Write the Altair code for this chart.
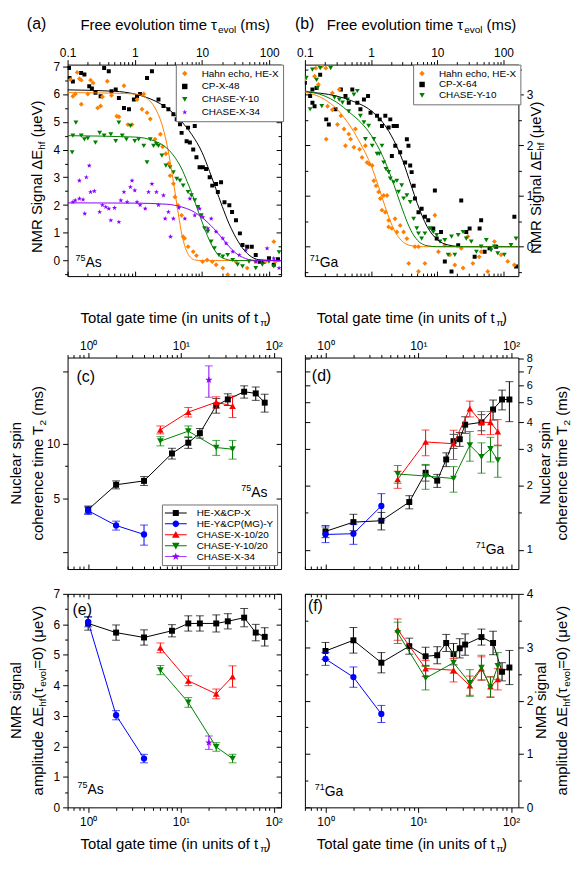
import altair as alt
import pandas as pd

FONT = "Liberation Sans"
ORANGE = "#FF7F00"; BLACK = "#000000"; GREEN = "#008000"
PURPLE = "#8B00FF"; BLUE = "#0000FF"; RED = "#FF0000"

STAR_PTS = [(0, -1), (0.235, -0.324), (0.951, -0.309), (0.38, 0.124), (0.588, 0.809),
            (0, 0.4), (-0.588, 0.809), (-0.38, 0.124), (-0.951, -0.309), (-0.235, -0.324)]


def star_path(cx=0.0, r=1.0):
    return "M" + "L".join(f"{cx + px * r:.3f},{py * r:.3f}" for px, py in STAR_PTS) + "Z"


STAR = star_path()

# ---------------- panel (a): 75As, signal vs free evolution time ----------------
a_he = [(0.11, 6.52), (0.12, 5.92), (0.13, 6.0), (0.139, 6.78), (0.15, 6.55), (0.16, 6.5), (0.16, 5.63),
        (0.2, 6.0), (0.22, 6.5), (0.24, 6.4), (0.28, 5.5), (0.31, 5.57), (0.33, 5.9), (0.39, 6.46),
        (0.45, 5.95), (0.54, 5.2), (0.58, 5.18), (0.69, 6.3), (0.79, 4.9), (0.91, 4.9), (1.08, 5.8),
        (1.28, 5.45), (1.36, 6.0), (1.52, 5.33), (1.7, 5.1), (2.0, 4.37), (2.4, 4.55), (2.6, 4.1),
        (2.9, 3.85), (3.2, 3.5), (3.35, 3.06), (3.75, 2.77), (3.96, 2.29), (4.4, 1.99), (4.97, 1.63),
        (5.24, 0.86), (5.5, 0.8), (6.2, 0.5), (7.4, 0.32), (8.26, 0.18), (10.2, -0.04), (11.9, 0.02),
        (14.2, -0.04), (16.2, -0.15), (20.4, -0.27), (24.1, -0.51), (32, -0.04), (47, -0.27),
        (63, -0.04), (88, -0.04), (117, 0.68), (123, -0.04)]
a_cp = [(0.105, 6.94), (0.107, 6.58), (0.12, 6.45), (0.159, 6.76), (0.178, 6.7), (0.21, 6.28), (0.23, 6.2),
        (0.26, 6.05), (0.31, 5.92), (0.35, 6.94), (0.41, 6.82), (0.45, 6.1), (0.52, 6.16), (0.58, 5.86),
        (0.69, 5.5), (0.82, 5.45), (0.97, 5.8), (1.08, 5.92), (1.2, 6.0), (1.52, 6.58), (1.8, 6.82),
        (2.25, 5.8), (2.67, 5.57), (3.16, 5.45), (3.75, 5.27), (4.2, 5.09), (4.7, 4.91), (4.97, 4.6),
        (5.56, 5.15), (5.9, 4.3), (6.2, 4.79), (6.6, 4.25), (7.4, 4.0), (7.8, 4.85), (8.26, 3.72),
        (9.2, 3.36), (10.3, 3.36), (11.5, 3.3), (13, 3.0), (14.2, 2.7), (16.2, 2.76), (17.2, 2.47),
        (19.2, 2.82), (21.6, 2.1), (25.5, 1.99), (28, 1.75), (32, 1.45), (36.6, 0.98), (40, 0.56),
        (47, 0.5), (55, 0.5), (63, 0.2), (72, -0.04), (83, -0.04), (99, 0.08), (117, -0.15), (135, 0.05)]
a_cy = [(0.117, 3.9), (0.12, 4.5), (0.133, 4.97), (0.16, 4.5), (0.178, 4.37), (0.2, 4.4), (0.26, 4.25),
        (0.3, 4.6), (0.35, 4.5), (0.44, 4.55), (0.52, 4.3), (0.58, 4.97), (0.65, 4.5), (0.75, 4.37),
        (0.86, 4.85), (1.0, 4.3), (1.14, 4.37), (1.36, 4.13), (1.52, 3.54), (1.7, 4.37), (1.9, 4.13),
        (2.1, 4.2), (2.25, 4.13), (2.53, 3.78), (2.9, 3.42), (3.35, 3.36), (3.75, 3.18), (4.2, 2.94),
        (4.7, 2.88), (5.24, 2.7), (6.2, 2.47), (6.96, 2.35), (7.8, 2.17), (8.7, 1.93), (9.76, 1.63),
        (10.9, 1.16), (12.2, 1.04), (13.7, 0.68), (15.3, 0.44), (17.8, 0.2), (20.4, 0.14), (24.1, 0.2),
        (28.6, 0.02), (33.8, -0.15), (40, -0.21), (50, -0.04), (63, -0.27), (79, -0.15), (99, -0.04),
        (117, -0.21), (140, 0.3)]
a_cx = [(0.12, 2.11), (0.13, 2.17), (0.15, 2.23), (0.15, 2.88), (0.17, 2.2), (0.18, 1.69), (0.19, 3.0),
        (0.21, 3.42), (0.22, 2.47), (0.25, 2.5), (0.3, 1.75), (0.33, 2.0), (0.37, 1.93), (0.41, 1.87),
        (0.44, 1.45), (0.5, 1.9), (0.58, 1.39), (0.62, 2.17), (0.69, 2.47), (0.77, 2.11), (0.86, 2.65),
        (0.91, 2.88), (1.0, 2.53), (1.08, 2.11), (1.2, 2.0), (1.43, 1.87), (1.6, 2.47), (1.8, 2.76),
        (2.1, 2.47), (2.25, 2.0), (2.67, 2.35), (2.83, 1.51), (3.16, 1.75), (3.4, 0.86), (3.75, 1.51),
        (4.5, 1.9), (5.56, 1.51), (6.6, 2.23), (7.8, 1.63), (9.2, 1.87), (10.3, 1.57), (12.2, 1.16),
        (13.7, 1.51), (16.2, 1.04), (20.4, 0.8), (22.8, 0.62), (28.6, 0.32), (35.8, 0.2), (45, 0.38),
        (63, -0.04), (93, 0.44), (117, 0.08), (140, -0.27)]
a_he_fit = [(0.1, 6.05), (0.5, 6.03), (1, 6.0), (1.5, 5.85), (2, 5.5), (2.5, 4.95), (3, 4.2), (3.5, 3.3),
            (4, 2.4), (4.5, 1.6), (5, 0.95), (5.5, 0.55), (6, 0.3), (7, 0.08), (8, 0.02), (10, 0), (150, 0)]
a_cp_fit = [(0.1, 6.15), (0.5, 6.1), (1, 6.0), (2, 5.75), (3, 5.5), (5, 5.0), (7, 4.55), (10, 3.9),
            (13, 3.2), (16, 2.6), (20, 1.95), (25, 1.35), (30, 0.95), (40, 0.45), (50, 0.2), (70, 0.03),
            (100, 0), (150, 0)]
a_cy_fit = [(0.1, 4.5), (1, 4.45), (2, 4.3), (3, 4.05), (4, 3.7), (5, 3.3), (6, 2.85), (7, 2.45),
            (8, 2.05), (10, 1.4), (12, 0.9), (15, 0.42), (20, 0.1), (30, 0), (150, 0)]
a_cx_fit = [(0.1, 2.08), (1, 2.07), (3, 2.03), (5, 1.93), (7, 1.8), (10, 1.55), (15, 1.15), (20, 0.8),
            (25, 0.52), (30, 0.32), (40, 0.12), (60, 0.01), (150, 0)]

# ---------------- panel (b): 71Ga ----------------
b_he = [(0.1, 3.3), (0.14, 3.36), (0.146, 3.52), (0.16, 3.2), (0.18, 3.56), (0.207, 3.52), (0.21, 2.12),
        (0.22, 2.77), (0.26, 3.03), (0.26, 2.7), (0.31, 2.41), (0.33, 3.1), (0.35, 2.58), (0.39, 2.32),
        (0.41, 1.99), (0.46, 2.22), (0.49, 2.12), (0.55, 1.96), (0.58, 2.32), (0.67, 1.92), (0.73, 1.76),
        (0.82, 1.99), (0.87, 1.66), (0.94, 1.63), (1.04, 1.6), (1.1, 1.3), (1.19, 1.2), (1.3, 1.08),
        (1.38, 0.95), (1.46, 0.72), (1.55, 1.01), (1.64, 0.68), (1.74, 1.01), (1.84, 0.52), (1.84, 0.39),
        (2.06, 0.36), (2.3, 0.55), (2.45, 0.29), (2.75, 0.42), (3.1, 0.29), (3.47, 0.16), (3.7, -0.33),
        (4.6, 0.0), (5.2, 0.0), (5.2, -0.49), (6.5, -0.33), (9.2, 0.62), (10.4, -0.1), (13, 0.03),
        (15.5, -0.16), (18.4, -0.36), (23, -0.03), (24.5, -0.42), (29, 0.2), (34.5, -0.33), (43, -0.2),
        (46, -0.1), (58, -0.49), (73, 0.1), (92, -0.16), (116, -0.29), (146, -0.36)]
b_cp = [(0.1, 3.23), (0.12, 2.97), (0.13, 2.84), (0.13, 3.1), (0.14, 2.77), (0.15, 3.13), (0.17, 3.39),
        (0.21, 2.51), (0.23, 2.41), (0.29, 2.71), (0.35, 3.1), (0.41, 2.97), (0.46, 2.84), (0.52, 3.1),
        (0.62, 2.84), (0.69, 2.71), (0.78, 2.9), (0.9, 2.97), (0.98, 2.64), (1.23, 2.58), (1.35, 2.51),
        (1.46, 2.38), (1.64, 2.58), (1.84, 2.35), (1.95, 2.51), (2.06, 1.79), (2.19, 2.38), (2.32, 1.99),
        (2.45, 2.38), (2.75, 1.86), (3.27, 1.66), (3.47, 2.12), (3.67, 1.99), (3.9, 1.6), (4.1, 1.47),
        (4.4, 1.2), (4.6, 0.95), (5.2, 0.68), (5.8, 0.75), (6.5, 0.59), (7.3, 0.52), (8.7, 0.36),
        (9.2, 1.11), (9.8, 0.16), (11.4, 0.29), (13, -0.29), (16.4, -0.49), (20.7, 0.03), (23, 0.91),
        (27.4, 0.29), (30.8, 0.36), (36.7, -0.2), (43.6, 0.36), (46, 0.52), (51.9, -0.1), (61.6, -0.03),
        (77.6, 0.0), (146, 0.59), (155, -0.39)]
b_cy = [(0.105, 3.33), (0.13, 3.49), (0.15, 3.29), (0.17, 3.52), (0.245, 3.52), (0.12, 2.71), (0.155, 3.13),
        (0.18, 2.77), (0.28, 2.94), (0.33, 2.9), (0.37, 2.84), (0.44, 2.9), (0.46, 2.67), (0.55, 3.0),
        (0.62, 3.07), (0.69, 2.58), (0.78, 2.45), (0.82, 2.12), (0.92, 2.38), (1.04, 1.99), (1.1, 2.12),
        (1.23, 1.83), (1.33, 1.83), (1.46, 1.99), (1.55, 1.66), (1.68, 1.53), (1.84, 1.47), (1.95, 1.34),
        (2.19, 1.27), (2.45, 1.3), (2.6, 1.08), (2.9, 1.21), (3.1, 0.95), (3.47, 1.01), (3.9, 0.88),
        (4.4, 0.55), (4.9, 0.36), (5.2, 0.26), (5.8, 0.16), (6.5, 0.26), (7.8, 0.36), (8.7, 0.29),
        (9.8, 0.23), (11, 0.1), (13, 0.13), (14.6, -0.16), (16.4, 0.2), (18.4, -0.16), (20.7, 0.23),
        (24.5, 0.29), (27.4, 0.16), (32.6, 0.1), (39, -0.1), (46, 0.0), (55, 0.13), (65, -0.07),
        (73, 0.0), (82, -0.13), (103, -0.16), (130, 0.03), (155, 0.16)]
b_he_fit = [(0.1, 3.05), (0.2, 2.9), (0.3, 2.72), (0.5, 2.35), (0.7, 2.02), (1, 1.6), (1.3, 1.18),
            (1.6, 0.82), (2, 0.47), (2.5, 0.22), (3, 0.1), (4, 0.02), (6, 0), (168, 0)]
b_cp_fit = [(0.1, 3.05), (0.3, 2.97), (0.5, 2.88), (1, 2.68), (1.5, 2.45), (2, 2.2), (3, 1.7), (4, 1.22),
            (5, 0.85), (7, 0.4), (10, 0.14), (15, 0.03), (25, 0), (168, 0)]
b_cy_fit = [(0.1, 3.07), (0.2, 2.97), (0.3, 2.85), (0.5, 2.62), (0.7, 2.45), (1, 2.2), (1.5, 1.78),
            (2, 1.38), (2.5, 1.02), (3, 0.72), (4, 0.32), (5, 0.13), (7, 0.02), (10, 0), (168, 0)]

# ---------------- panels (c)-(f): vs total gate time ----------------
g_hecp = [1, 2, 4, 8, 12, 16, 24, 32, 48, 64, 80]
g_hecp_ga = [1, 2, 4, 8, 12, 16, 20, 24, 28, 32, 48, 64, 80, 96]
g_hey = [1, 2, 4]
g_chase = [6, 12, 24, 36]
g_chase_ga = [6, 12, 24, 36, 48, 60, 72]
g_cx34 = [20]

c_hecp = [4.32, 5.92, 6.22, 8.81, 10.1, 11.4, 16.2, 17.5, 19.3, 18.9, 16.8]
c_hecp_e = [0.2, 0.3, 0.35, 0.6, 0.7, 0.7, 1.5, 1.3, 1.5, 1.6, 1.9]
c_hey = [4.26, 3.53, 3.15]
c_hey_e = [0.2, 0.2, 0.4]
c_cx = [11.9, 14.9, 16.9, 16.1]
c_cx_e = [0.6, 0.9, 1.2, 2.2]
c_cy = [10.3, 11.7, 9.5, 9.3]
c_cy_e = [0.6, 0.8, 0.9, 1.1]
c_cx34 = [22.4]
c_cx34_e = [4.4]

d_hecp = [1.22, 1.35, 1.37, 1.68, 2.31, 2.12, 2.67, 3.26, 3.33, 3.9, 4.0, 4.6, 5.13, 5.13]
d_hecp_e = [0.08, 0.12, 0.13, 0.12, 0.2, 0.15, 0.2, 0.25, 0.25, 0.35, 0.35, 0.5, 0.55, 1.1]
d_hey = [1.18, 1.19, 1.61]
d_hey_e = [0.1, 0.13, 0.23]
d_cx = [2.15, 3.23, 3.17, 4.64, 4.0, 4.0, 3.62]
d_cx_e = [0.2, 0.45, 0.5, 0.4, 0.5, 0.5, 0.5]
d_cy = [2.28, 2.23, 2.17, 3.12, 2.75, 3.0, 2.65]
d_cy_e = [0.22, 0.3, 0.3, 0.5, 0.45, 0.4, 0.45]

e_hecp = [6.03, 5.73, 5.57, 5.79, 6.03, 6.03, 6.03, 6.1, 6.22, 5.73, 5.59]
e_hecp_e = [0.22, 0.25, 0.25, 0.2, 0.25, 0.25, 0.28, 0.25, 0.3, 0.27, 0.3]
e_hey = [6.08, 3.02, 1.6]
e_hey_e = [0.16, 0.15, 0.14]
e_cx = [5.23, 4.15, 3.72, 4.29]
e_cx_e = [0.16, 0.16, 0.16, 0.35]
e_cy = [4.5, 3.44, 1.98, 1.6]
e_cy_e = [0.15, 0.16, 0.14, 0.14]
e_cx34 = [2.12]
e_cx34_e = [0.22]

f_hecp = [2.93, 3.13, 2.71, 3.02, 2.83, 2.85, 3.08, 2.87, 2.98, 3.05, 3.19, 3.08, 2.54, 2.62]
f_hecp_e = [0.16, 0.24, 0.19, 0.15, 0.17, 0.16, 0.16, 0.2, 0.18, 0.2, 0.15, 0.22, 0.17, 0.32]
f_hey = [2.78, 2.44, 1.75]
f_hey_e = [0.12, 0.19, 0.16]
f_cx = [3.33, 2.6, 2.57, 2.28, 2.6, 2.26, 2.4]
f_cx_e = [0.2, 0.15, 0.22, 0.18, 0.22, 0.19, 0.2]
f_cy = [3.27, 2.42, 2.71, 2.33, 2.62, 2.25, 2.65]
f_cy_e = [0.2, 0.22, 0.2, 0.25, 0.23, 0.19, 0.25]

# tick values
X_DEC_A = [0.1, 1, 10, 100]
X_MIN_A = [0.2, 0.3, 0.4, 0.5, 0.6, 0.7, 0.8, 0.9, 2, 3, 4, 5, 6, 7, 8, 9, 20, 30, 40, 50, 60, 70, 80, 90]
X_DEC_G = [1, 10, 100]
X_MIN_G = [0.6, 0.7, 0.8, 0.9, 2, 3, 4, 5, 6, 7, 8, 9, 20, 30, 40, 50, 60, 70, 80, 90]

# ---------------- helpers ----------------
W = {' ': .278, '(': .333, ')': .333, '=': .584, ',': .278, '-': .333, '/': .278, '&': .667, '.': .278,
     'a': .556, 'b': .556, 'c': .5, 'd': .556, 'e': .556, 'f': .278, 'g': .556, 'h': .556, 'i': .222,
     'l': .222, 'm': .833, 'n': .556, 'o': .556, 'p': .556, 'r': .333, 's': .5, 't': .278, 'u': .556,
     'v': .5, 'A': .667, 'E': .667, 'F': .611, 'G': .778, 'M': .833, 'N': .722, 'R': .722, 'S': .667,
     'T': .611, 'V': .667, 'τ': .45, 'Δ': .668, 'μ': .576, 'π': .56}


def tw(s, size):
    return sum(W.get(ch, 0.556) for ch in s) * size


DUMMY = alt.Data(values=[{"d": 0}])


def rich(segs, x0, y0, angle=0, center=False):
    total = sum(tw(t, sz) for t, sz, _ in segs)
    pos = -total / 2 if center else 0.0
    out = []
    for t, sz, sh in segs:
        lead = len(t) - len(t.lstrip(' '))
        pos += lead * 0.278 * sz
        txt = t.strip(' ')
        if angle == 0:
            x, y = x0 + pos, y0 + sh
        else:
            x, y = x0 + sh, y0 - pos
        out.append(alt.Chart(DUMMY).mark_text(align='left', baseline='alphabetic', font=FONT, fontSize=sz,
                                              angle=angle, color='black')
                   .encode(x=alt.value(x), y=alt.value(y), text=alt.value(txt)))
        pos += tw(txt, sz)
    return out


def mk_axis(orient, vals, size, labels, offset, expr, pad, lsize):
    kw = dict(orient=orient, values=vals, tickSize=size, labels=labels, domain=False, grid=False,
              ticks=True, tickColor='black', tickWidth=1, title=None)
    if offset:
        kw['offset'] = offset
    if labels:
        kw.update(labelExpr=expr, labelFont=FONT, labelFontSize=lsize, labelColor='black',
                  labelPadding=pad, labelFlush=False, labelOverlap=False)
    return alt.Axis(**kw)


def axis_layers(xs, ys, xmid, ymid, xo, yo, xmaj, xmin, ymaj, ymin, xexpr, yexpr, ysize=12):
    xm = {'top': 'bottom', 'bottom': 'top'}[xo]
    ym = {'left': 'right', 'right': 'left'}[yo]
    xpad = 0 if xo == 'top' else 4
    base = alt.Chart(alt.Data(values=[{"ax": xmid, "ay": ymid}])).mark_point(opacity=0)
    cfg = [(xo, xmaj, 5, True, 0, yo, ymaj), (xo, xmin, 3, False, 0, yo, ymin),
           (xm, xmaj, 5, False, -5, ym, ymaj), (xm, xmin, 3, False, -3, ym, ymin)]
    out = []
    for xor, xv, sz, lab, off, yor, yv in cfg:
        out.append(base.encode(
            x=alt.X('ax:Q', scale=xs, axis=mk_axis(xor, xv, sz, lab, off, xexpr, xpad, 12)),
            y=alt.Y('ay:Q', scale=ys, axis=mk_axis(yor, yv, sz, lab, off, yexpr, 3, ysize))))
    return out


def scatter(pairs, color, shape, size, xs, ys):
    df = pd.DataFrame(pairs, columns=['t', 's'])
    return alt.Chart(df).mark_point(filled=True, shape=shape, size=size, color=color, opacity=1,
                                    strokeWidth=0, clip=True).encode(
        x=alt.X('t:Q', scale=xs, axis=None), y=alt.Y('s:Q', scale=ys, axis=None))


def fitline(pairs, color, xs, ys):
    df = pd.DataFrame(pairs, columns=['t', 's'])
    return alt.Chart(df).mark_line(color=color, strokeWidth=1, interpolate='monotone', clip=True).encode(
        x=alt.X('t:Q', scale=xs, axis=None), y=alt.Y('s:Q', scale=ys, axis=None))


def series(g, v, e, color, shape, size, xs, ys):
    df = pd.DataFrame({'g': g, 'v': v, 'lo': [a - b for a, b in zip(v, e)], 'hi': [a + b for a, b in zip(v, e)]})
    X = alt.X('g:Q', scale=xs, axis=None)
    base = alt.Chart(df)
    return [
        base.mark_line(color=color, strokeWidth=1).encode(x=X, y=alt.Y('v:Q', scale=ys, axis=None)),
        base.mark_rule(color=color, strokeWidth=1).encode(x=X, y=alt.Y('lo:Q', scale=ys, axis=None), y2='hi:Q'),
        base.mark_tick(color=color, orient='horizontal', size=8, thickness=1).encode(
            x=X, y=alt.Y('lo:Q', scale=ys, axis=None)),
        base.mark_tick(color=color, orient='horizontal', size=8, thickness=1).encode(
            x=X, y=alt.Y('hi:Q', scale=ys, axis=None)),
        base.mark_point(filled=True, shape=shape, size=size, color=color, opacity=1, strokeWidth=0).encode(
            x=X, y=alt.Y('v:Q', scale=ys, axis=None)),
    ]


def legend_layer(names, colors, shapes, lx, ly, symsize, **kw):
    leg = alt.Legend(title=None, orient='none', legendX=lx, legendY=ly, labelFont=FONT, labelFontSize=10,
                     labelColor='black', symbolSize=symsize, strokeColor='#707070', fillColor='white',
                     symbolStrokeWidth=0, **kw)
    df = pd.DataFrame({'s': names})
    return alt.Chart(df).transform_filter('false').mark_point(filled=True, opacity=1).encode(
        color=alt.Color('s:N', scale=alt.Scale(domain=names, range=colors), legend=leg),
        shape=alt.Shape('s:N', scale=alt.Scale(domain=names, range=shapes), legend=leg))


def iso(num, el, x0, y0):
    return rich([(num, 9, -6), (el, 14, 0)], x0, y0)


def plabel(t, x0, y0):
    return rich([(t, 16, 0)], x0, y0)


def panel(layers, w, h):
    return alt.layer(*layers).resolve_axis(x='independent', y='independent').properties(
        width=w, height=h, view=alt.ViewBackground(stroke='black', strokeWidth=1))


W_P = 215
TAU_TITLE = [("Free evolution time τ", 15, 0), ("evol", 10, 3), (" (ms)", 15, 0)]
GATE_TITLE = [("Total gate time (in units of t", 15, 0), ("π", 10, 3), (")", 15, 0)]
SIG_TITLE = [("NMR Signal ΔE", 15, 0), ("hf", 10, 3), (" (μeV)", 15, 0)]
T2_L2 = [("coherence time T", 15, 0), ("2", 10, 3), (" (ms)", 15, 0)]
AMP_L2 = [("amplitude ΔE", 15, 0), ("hf", 10, 3), ("(τ", 15, 0), ("evol", 10, 3), ("=0) (μeV)", 15, 0)]
X_EXPR_A = "datum.value == 1 ? '1' : datum.value == 10 ? '10' : datum.value == 100 ? '100' : '0.1'"
X_EXPR_G = "datum.value == 1 ? '10⁰' : datum.value == 10 ? '10¹' : '10²'"
Y_EXPR_NUM = "format(datum.value, 'd')"
TOP_T = -35

# ---- (a)
xs = alt.Scale(type='log', domain=[0.1, 150], nice=False)
ys = alt.Scale(domain=[-0.56, 7.06], nice=False, zero=False)
H1 = 213
la = axis_layers(xs, ys, 1, 3, 'top', 'left', X_DEC_A, X_MIN_A, list(range(0, 8)),
                 [-0.5 + i for i in range(8)], X_EXPR_A, Y_EXPR_NUM)
la += [scatter(a_cp, BLACK, 'square', 16, xs, ys), scatter(a_he, ORANGE, 'diamond', 24, xs, ys),
       scatter(a_cy, GREEN, 'triangle-down', 24, xs, ys), scatter(a_cx, PURPLE, STAR, 28, xs, ys)]
la += [fitline(a_cp_fit, BLACK, xs, ys), fitline(a_he_fit, ORANGE, xs, ys),
       fitline(a_cy_fit, GREEN, xs, ys), fitline(a_cx_fit, PURPLE, xs, ys)]
la.append(legend_layer(["Hahn echo, HE-X", "CP-X-48", "CHASE-Y-10", "CHASE-X-34"],
                       [ORANGE, BLACK, GREEN, PURPLE], ['diamond', 'square', 'triangle-down', STAR],
                       109, 0, 30, padding=4, rowPadding=3, labelOffset=12))
la += rich(TAU_TITLE, 13, TOP_T) + rich(SIG_TITLE, -26, 113, angle=270, center=True)
la += plabel("(a)", -41, -36) + iso("75", "As", 8, 204)
pa = panel(la, W_P, H1)

# ---- (b)
xs = alt.Scale(type='log', domain=[0.1, 168], nice=False)
ys = alt.Scale(domain=[-0.58, 3.59], nice=False, zero=False)
lb = axis_layers(xs, ys, 1, 1, 'top', 'right', X_DEC_A, X_MIN_A, [0, 1, 2, 3],
                 [-0.5, 0.5, 1.5, 2.5, 3.5], X_EXPR_A, Y_EXPR_NUM)
lb += [scatter(b_cp, BLACK, 'square', 16, xs, ys), scatter(b_he, ORANGE, 'diamond', 24, xs, ys),
       scatter(b_cy, GREEN, 'triangle-down', 24, xs, ys)]
lb += [fitline(b_cp_fit, BLACK, xs, ys), fitline(b_he_fit, ORANGE, xs, ys), fitline(b_cy_fit, GREEN, xs, ys)]
lb.append(legend_layer(["Hahn echo, HE-X", "CP-X-64", "CHASE-Y-10"], [ORANGE, BLACK, GREEN],
                       ['diamond', 'square', 'triangle-down'], 109, 0, 30, padding=4, rowPadding=1,
                       labelOffset=12))
lb += rich(TAU_TITLE, 22, TOP_T) + rich(SIG_TITLE, 238, 114, angle=270, center=True)
lb += plabel("(b)", -10, -36) + iso("71", "Ga", 5, 204)
pb = panel(lb, W_P, H1)

# ---- spacers
sp = alt.Chart(DUMMY).mark_text(text='').encode(x=alt.value(0), y=alt.value(0)).properties(width=W_P, height=32)

# ---- (c)
LINE = "M-1,-0.09H3V0.09H-1Z"
LEG_C = [LINE + "M0.45,-0.55H1.55V0.55H0.45Z",
         LINE + "M1.6,0A0.6,0.6,0,1,1,0.4,0A0.6,0.6,0,1,1,1.6,0Z",
         LINE + "M1,-0.7L1.7,0.55H0.3Z",
         LINE + "M1,0.7L0.3,-0.55H1.7Z",
         LINE + star_path(1.0, 0.75)]
xs = alt.Scale(type='log', domain=[0.6, 120], nice=False)
ys = alt.Scale(type='log', domain=[2.03, 29.8], nice=False)
H2 = 213
lc = axis_layers(xs, ys, 10, 10, 'top', 'left', X_DEC_G, X_MIN_G, [2.5, 5, 10, 25], [7.5], X_EXPR_G,
                 "datum.value == 5 ? '5' : datum.value == 10 ? '10' : ''")
lc += series(g_hecp, c_hecp, c_hecp_e, BLACK, 'square', 36, xs, ys)
lc += series(g_hey, c_hey, c_hey_e, BLUE, 'circle', 40, xs, ys)
lc += series(g_chase, c_cx, c_cx_e, RED, 'triangle-up', 45, xs, ys)
lc += series(g_chase, c_cy, c_cy_e, GREEN, 'triangle-down', 45, xs, ys)
lc += series(g_cx34, c_cx34, c_cx34_e, PURPLE, STAR, 60, xs, ys)
lc.append(legend_layer(["HE-X&CP-X", "HE-Y&CP(MG)-Y", "CHASE-X-10/20", "CHASE-Y-10/20", "CHASE-X-34"],
                       [BLACK, BLUE, RED, GREEN, PURPLE], LEG_C, 95, 148, 121, padding=3, rowPadding=0,
                       labelOffset=21))
lc += rich(GATE_TITLE, 13, TOP_T)
lc += rich([("Nuclear spin", 15, 0)], -47, H2 / 2, angle=270, center=True)
lc += rich(T2_L2, -25, H2 / 2, angle=270, center=True)
lc += plabel("(c)", 9, 25) + iso("75", "As", 175, 140)
pc = panel(lc, W_P, H2)

# ---- (d)
ys = alt.Scale(type='log', domain=[0.81, 8.1], nice=False)
ld = axis_layers(xs, ys, 10, 2, 'top', 'right', X_DEC_G, X_MIN_G, [1, 2, 3, 4, 5, 6, 7, 8], [1.5],
                 X_EXPR_G, Y_EXPR_NUM, ysize=11)
ld += series(g_hecp_ga, d_hecp, d_hecp_e, BLACK, 'square', 36, xs, ys)
ld += series(g_hey, d_hey, d_hey_e, BLUE, 'circle', 40, xs, ys)
ld += series(g_chase_ga, d_cx, d_cx_e, RED, 'triangle-up', 45, xs, ys)
ld += series(g_chase_ga, d_cy, d_cy_e, GREEN, 'triangle-down', 45, xs, ys)
ld += rich(GATE_TITLE, 12, TOP_T)
ld += rich([("Nuclear spin", 15, 0)], 247, H2 / 2, angle=270, center=True)
ld += rich(T2_L2, 264, H2 / 2, angle=270, center=True)
ld += plabel("(d)", 7, 24) + iso("71", "Ga", 172, 198)
pd_ = panel(ld, W_P, H2)

# ---- (e)
H3 = 215
ys = alt.Scale(domain=[0, 7], nice=False, zero=False)
le = axis_layers(xs, ys, 10, 3, 'bottom', 'left', X_DEC_G, X_MIN_G, list(range(0, 8)),
                 [0.5 + i for i in range(7)], X_EXPR_G, Y_EXPR_NUM)
le += series(g_hecp, e_hecp, e_hecp_e, BLACK, 'square', 36, xs, ys)
le += series(g_hey, e_hey, e_hey_e, BLUE, 'circle', 40, xs, ys)
le += series(g_chase, e_cx, e_cx_e, RED, 'triangle-up', 45, xs, ys)
le += series(g_chase, e_cy, e_cy_e, GREEN, 'triangle-down', 45, xs, ys)
le += series(g_cx34, e_cx34, e_cx34_e, PURPLE, STAR, 60, xs, ys)
le += rich(GATE_TITLE, 13, 257)
le += rich([("NMR signal", 15, 0)], -47, H3 / 2, angle=270, center=True)
le += rich(AMP_L2, -25, H3 / 2, angle=270, center=True)
le += plabel("(e)", 5, 21) + iso("75", "As", 10, 202)
pe = panel(le, W_P, H3)

# ---- (f)
ys = alt.Scale(domain=[0, 4], nice=False, zero=False)
lf = axis_layers(xs, ys, 10, 2, 'bottom', 'right', X_DEC_G, X_MIN_G, [0, 1, 2, 3, 4],
                 [0.5, 1.5, 2.5, 3.5], X_EXPR_G, Y_EXPR_NUM)
lf += series(g_hecp_ga, f_hecp, f_hecp_e, BLACK, 'square', 36, xs, ys)
lf += series(g_hey, f_hey, f_hey_e, BLUE, 'circle', 40, xs, ys)
lf += series(g_chase_ga, f_cx, f_cx_e, RED, 'triangle-up', 45, xs, ys)
lf += series(g_chase_ga, f_cy, f_cy_e, GREEN, 'triangle-down', 45, xs, ys)
lf += rich(GATE_TITLE, 12, 257)
lf += rich([("NMR signal", 15, 0)], 243, H3 / 2, angle=270, center=True)
lf += rich(AMP_L2, 264, H3 / 2, angle=270, center=True)
lf += plabel("(f)", 3, 17) + iso("71", "Ga", 10, 204)
pf = panel(lf, W_P, H3)

chart = alt.concat(pa, pb, sp, sp, pc, pd_, pe, pf, columns=2,
                   spacing={"row": 25, "column": 24}, bounds='flush', align='each').resolve_scale(
    color='independent', shape='independent').configure_view(stroke='transparent').properties(
    padding={"left": 0, "top": 4, "right": 0, "bottom": 0}, background='white')

chart.save("out.html", embed_options={"renderer": "svg", "actions": False})
